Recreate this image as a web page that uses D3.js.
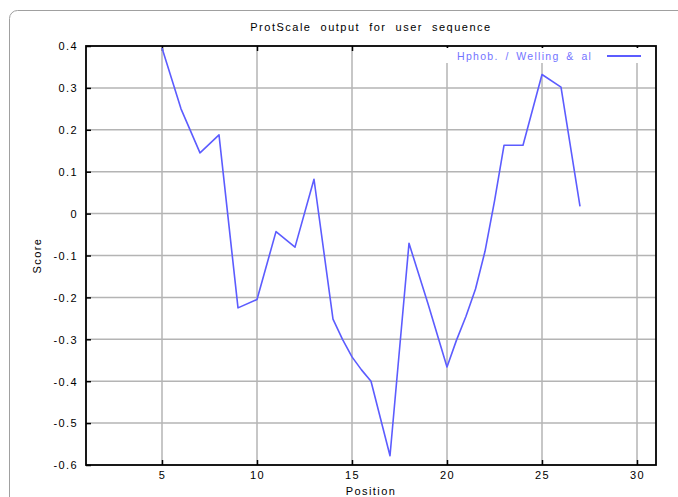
<!DOCTYPE html>
<html>
<head>
<meta charset="utf-8">
<script src="https://cdn.jsdelivr.net/npm/d3@7"></script>
<style>
  html, body { margin: 0; padding: 0; background: #fff; }
  svg text { font-family: "Liberation Sans", Arial, sans-serif; }
</style>
</head>
<body>
<svg id="chart" width="678" height="497"></svg>
<script>
// ---- data ----
const positions = [5, 6, 7, 8, 9, 10, 11, 12, 13, 14, 14.5, 15, 15.5, 16, 17, 18, 19, 20, 20.5, 21, 21.5, 22, 22.5, 23, 24, 25, 26, 27];
const scores    = [0.395, 0.25, 0.145, 0.188, -0.225, -0.205, -0.043, -0.08, 0.082, -0.252, -0.30, -0.342, -0.373, -0.40, -0.578, -0.071, -0.215, -0.366, -0.302, -0.245, -0.18, -0.09, 0.03, 0.163, 0.163, 0.332, 0.302, 0.017];
const xTicks = [5, 10, 15, 20, 25, 30];
const yTicks = [0.4, 0.3, 0.2, 0.1, 0, -0.1, -0.2, -0.3, -0.4, -0.5, -0.6];
const titleText = "ProtScale output for user sequence";
const legendText = "Hphob. / Welling & al";
const xLabel = "Position";
const yLabel = "Score";

const svg = d3.select("#chart");
const L = 86, R = 656, T = 46, B = 465;

// outer panel frame
svg.append("rect").attr("x", 9.5).attr("y", 10.5).attr("width", 720).attr("height", 520)
  .attr("rx", 8).attr("fill", "none").attr("stroke", "#a0a0a0").attr("stroke-width", 1);

const x = d3.scaleLinear().domain([1, 31]).range([L, R]);
const y = d3.scaleLinear().domain([-0.6, 0.4]).range([B, T]);

// grid
const grid = svg.append("g");
grid.selectAll("line.v").data(xTicks).join("line")
  .attr("x1", d => x(d)).attr("x2", d => x(d)).attr("y1", T).attr("y2", B)
  .attr("stroke", "#b4b4b4").attr("stroke-width", 1.5);
grid.selectAll("line.h").data(yTicks.filter(d => d < 0.4 && d > -0.6)).join("line")
  .attr("x1", L).attr("x2", R).attr("y1", d => y(d)).attr("y2", d => y(d))
  .attr("stroke", "#b4b4b4").attr("stroke-width", 1.5);

// axes with tick labels
const fmt = d => d === 0 ? "0" : d3.format(".1f")(d).replace("\u2212", "-");
const xAxis = svg.append("g").attr("transform", `translate(0,${B})`)
  .call(d3.axisBottom(x).tickValues(xTicks).tickSize(-5).tickPadding(6).tickFormat(d3.format("d")));
const yAxis = svg.append("g").attr("transform", `translate(${L},0)`)
  .call(d3.axisLeft(y).tickValues(yTicks).tickSize(-5).tickPadding(8).tickFormat(fmt));
const xTop = svg.append("g").attr("transform", `translate(0,${T})`)
  .call(d3.axisTop(x).tickValues(xTicks).tickSize(-5).tickFormat(""));
[xAxis, yAxis, xTop].forEach(g => {
  g.select(".domain").remove();
  g.selectAll(".tick line").attr("stroke", "#000").attr("stroke-width", 1.5);
  g.selectAll(".tick text").attr("fill", "#000").attr("font-size", 11)
    .attr("letter-spacing", "1.4px");
});
yAxis.selectAll(".tick text").attr("dy", "0.35em");

// plot border
svg.append("rect").attr("x", L).attr("y", T).attr("width", R - L).attr("height", B - T)
  .attr("fill", "none").attr("stroke", "#000").attr("stroke-width", 1.8);

// legend box (white background interrupts grid)
const legend = svg.append("g");
legend.append("rect").attr("x", 446).attr("y", 48).attr("width", 206).attr("height", 15).attr("fill", "#fff");
legend.append("text").attr("x", 457).attr("y", 60).attr("font-size", 10.5)
  .attr("letter-spacing", "1.3px").attr("word-spacing", "2.5px").attr("fill", "#7373ff")
  .text(legendText);
legend.append("line").attr("x1", 607).attr("x2", 641).attr("y1", 56).attr("y2", 56)
  .attr("stroke", "#5c5cff").attr("stroke-width", 1.8);

// data line
const data = positions.map((p, i) => ({ p, s: scores[i] }));
svg.append("path").datum(data)
  .attr("fill", "none").attr("stroke", "#5c5cff").attr("stroke-width", 1.6)
  .attr("stroke-linejoin", "round")
  .attr("d", d3.line().x(d => x(d.p)).y(d => y(d.s)));

// titles
svg.append("text").attr("x", (L + R) / 2).attr("y", 31).attr("text-anchor", "middle")
  .attr("font-size", 11).attr("letter-spacing", "1.5px").attr("word-spacing", "4.5px")
  .attr("fill", "#000").text(titleText);
svg.append("text").attr("x", (L + R) / 2).attr("y", 495).attr("text-anchor", "middle")
  .attr("font-size", 11).attr("letter-spacing", "1.4px").attr("fill", "#000").text(xLabel);
svg.append("text").attr("transform", `translate(41,${(T + B) / 2}) rotate(-90)`)
  .attr("text-anchor", "middle").attr("font-size", 11).attr("letter-spacing", "1.4px")
  .attr("fill", "#000").text(yLabel);
</script>
</body>
</html>
